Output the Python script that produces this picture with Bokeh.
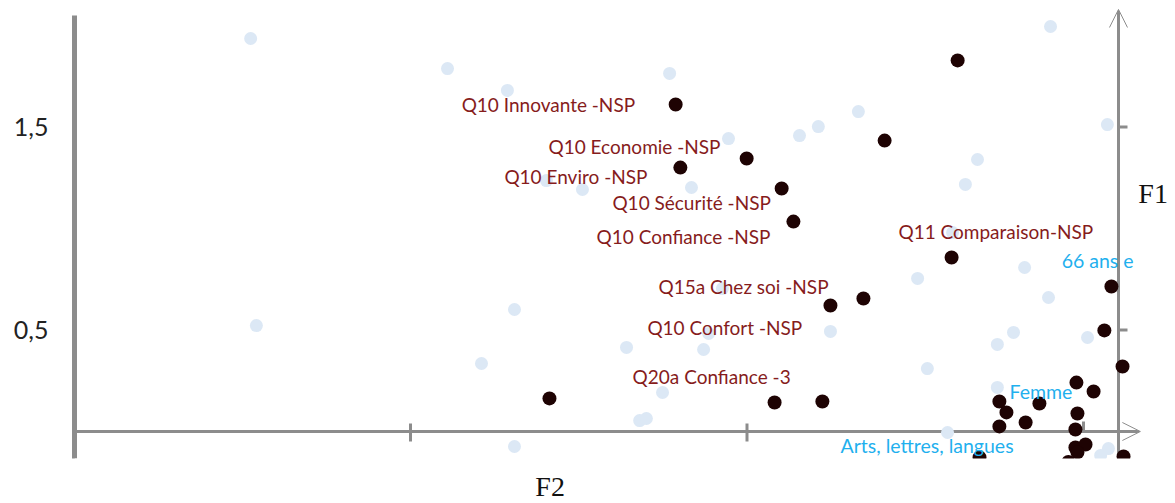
from bokeh.plotting import figure
from bokeh.models import (Range1d, LinearAxis, FixedTicker, Arrow, OpenHead, Label, BoxAnnotation,
                          CustomJSTickFormatter)
from bokeh.core.properties import value
from bokeh.embed import file_html
from bokeh.resources import INLINE

# ---- data (F2, F1 coordinates) ----
light_f2 = [-2.475, -1.890, -1.712, -1.230, -0.098, -1.055, -0.844, -0.788, -0.669, 0.071,
            -0.315, -0.351, -1.596, -1.489, -1.165, -0.389, -0.175, -0.493, -0.104, -1.073,
            -1.691, -2.458, -1.114, -1.129, -1.358, -1.789, -0.752, -1.251, -1.319, -1.299,
            -1.691, -0.464, -0.256, -0.208, 0.012, -0.256, -0.404, 0.074, 0.051]
light_f1 = [1.936, 1.788, 1.680, 1.764, 1.995, 1.443, 1.458, 1.502, 1.576, 1.512,
            1.340, 1.217, 1.236, 1.192, 1.202, 0.980, 0.808, 0.754, 0.660, 0.704,
            0.601, 0.522, 0.483, 0.404, 0.414, 0.335, 0.493, 0.192, 0.054, 0.064,
            -0.074, 0.310, 0.429, 0.488, 0.463, 0.217, -0.005, -0.084, -0.118]

dark_f2 = [-0.374, -1.212, -1.001, -1.198, -0.591, -0.897, -0.862, -0.392, -0.752, -0.654,
           -1.587, -0.918, -0.776, 0.083, 0.062, 0.116, -0.021, 0.030, -0.250, -0.229,
           -0.131, -0.018, -0.250, -0.172, -0.024, -0.024, 0.006, -0.018, 0.119, -0.309,
           -0.045]
dark_f1 = [1.828, 1.611, 1.345, 1.300, 1.433, 1.197, 1.034, 0.857, 0.621, 0.655,
           0.163, 0.143, 0.148, 0.714, 0.498, 0.320, 0.241, 0.197, 0.148, 0.094,
           0.138, 0.089, 0.025, 0.044, 0.010, -0.079, -0.064, -0.103, -0.123, -0.128,
           -0.150]

red_text = ["Q10 Innovante -NSP", "Q10 Economie -NSP", "Q10 Enviro -NSP", "Q10 Sécurité -NSP",
            "Q10 Confiance -NSP", "Q11 Comparaison-NSP", "Q15a Chez soi -NSP",
            "Q10 Confort -NSP", "Q20a Confiance -3"]
red_f2 = [-1.848, -1.590, -1.721, -1.400, -1.447, -0.550, -1.263, -1.296, -1.340]
red_f1 = [1.611, 1.404, 1.256, 1.126, 0.961, 0.983, 0.714, 0.512, 0.271]

cyan_text = ["66 ans e", "Femme", "Arts, lettres, langues"]
cyan_f2 = [-0.065, -0.220, -0.722]
cyan_f1 = [0.842, 0.197, -0.071]

y_ticks = [0.5, 1.5]
x_ticks = [-2, -1]
x_tick_zero = [0]

# ---- geometry / style ----
PXU = 336.5   # pixels per F2 unit
PYU = 203.0   # pixels per F1 unit
X0, X1 = -2.9985, 0.2734
Y0, Y1 = -0.3547, 2.1232
CROP = -0.133         # lower edge of the visible plotting area
VX = 0.104            # where the F1 arrow crosses
AX = "#8c8c8c"
LIGHT = "#dce8f5"
DARK = "#1e0303"
RED = "#861c1c"
CYAN = "#1fb0ee"
FONT = "Lato"

p = figure(width=1175, height=503, x_range=Range1d(X0, X1), y_range=Range1d(Y0, Y1),
           x_axis_type=None, y_axis_type=None, output_backend="svg", toolbar_location=None,
           min_border_left=74, min_border_right=0, min_border_top=0, min_border_bottom=0)
p.outline_line_color = None
p.background_fill_color = "white"
p.border_fill_color = "white"

yaxis = LinearAxis(ticker=FixedTicker(ticks=y_ticks),
                   formatter=CustomJSTickFormatter(code="return tick.toFixed(1).replace('.', ',');"),
                   bounds=(CROP, 2.049))
yaxis.axis_line_color = AX
yaxis.axis_line_width = 5
yaxis.major_tick_line_color = None
yaxis.minor_tick_line_color = None
yaxis.major_tick_out = 0
yaxis.major_tick_in = 0
yaxis.major_label_standoff = 26
yaxis.major_label_text_font = FONT
yaxis.major_label_text_font_size = "25px"
yaxis.major_label_text_color = "#222222"
p.add_layout(yaxis, "left")

# axis arrows
harrow = Arrow(x_start=X0, y_start=0, x_end=0.169, y_end=0, line_color=AX, line_width=3,
               end=OpenHead(size=18, line_color=AX, line_width=1), level="underlay")
varrow = Arrow(x_start=VX, y_start=CROP, x_end=VX, y_end=2.079, line_color=AX, line_width=3,
               end=OpenHead(size=18, line_color=AX, line_width=1), level="underlay")
p.add_layout(harrow)
p.add_layout(varrow)

# ticks on the F2 line
p.segment(x0=x_ticks, y0=[8 / PYU] * len(x_ticks), x1=x_ticks, y1=[-10 / PYU] * len(x_ticks),
          line_color=AX, line_width=3, level="underlay")
p.segment(x0=x_tick_zero, y0=[0], x1=x_tick_zero, y1=[10 / PYU],
          line_color=AX, line_width=3, level="underlay")
# ticks on the F1 arrow
p.segment(x0=[VX] * len(y_ticks), y0=y_ticks, x1=[VX + 9 / PXU] * len(y_ticks), y1=y_ticks,
          line_color=AX, line_width=3, level="underlay")

p.scatter(light_f2, light_f1, size=13, fill_color=LIGHT, line_color=None)
p.scatter(dark_f2, dark_f1, size=14, fill_color=DARK, line_color=None)

p.text(x=red_f2, y=red_f1, text=red_text, text_font=value(FONT), text_font_size="19px",
       text_color=RED, text_baseline="middle", text_align="left")
p.text(x=cyan_f2, y=cyan_f1, text=cyan_text, text_font=value(FONT), text_font_size="19.5px",
       text_color=CYAN, text_baseline="middle", text_align="left")

# the picture is cropped below CROP: blank band for the axis title
p.add_layout(BoxAnnotation(top=CROP, fill_color="white", fill_alpha=1.0, line_color=None))

p.add_layout(Label(x=0.163, y=(431 - 193) / PYU, text="F1", text_font="Liberation Serif",
                   text_font_size="28px", text_color="#111111", text_baseline="middle"))
p.add_layout(Label(x=-1.629, y=(431 - 486) / PYU, text="F2", text_font="Liberation Serif",
                   text_font_size="28px", text_color="#111111", text_baseline="middle"))

open("out.html", "w").write(file_html(p, INLINE))
